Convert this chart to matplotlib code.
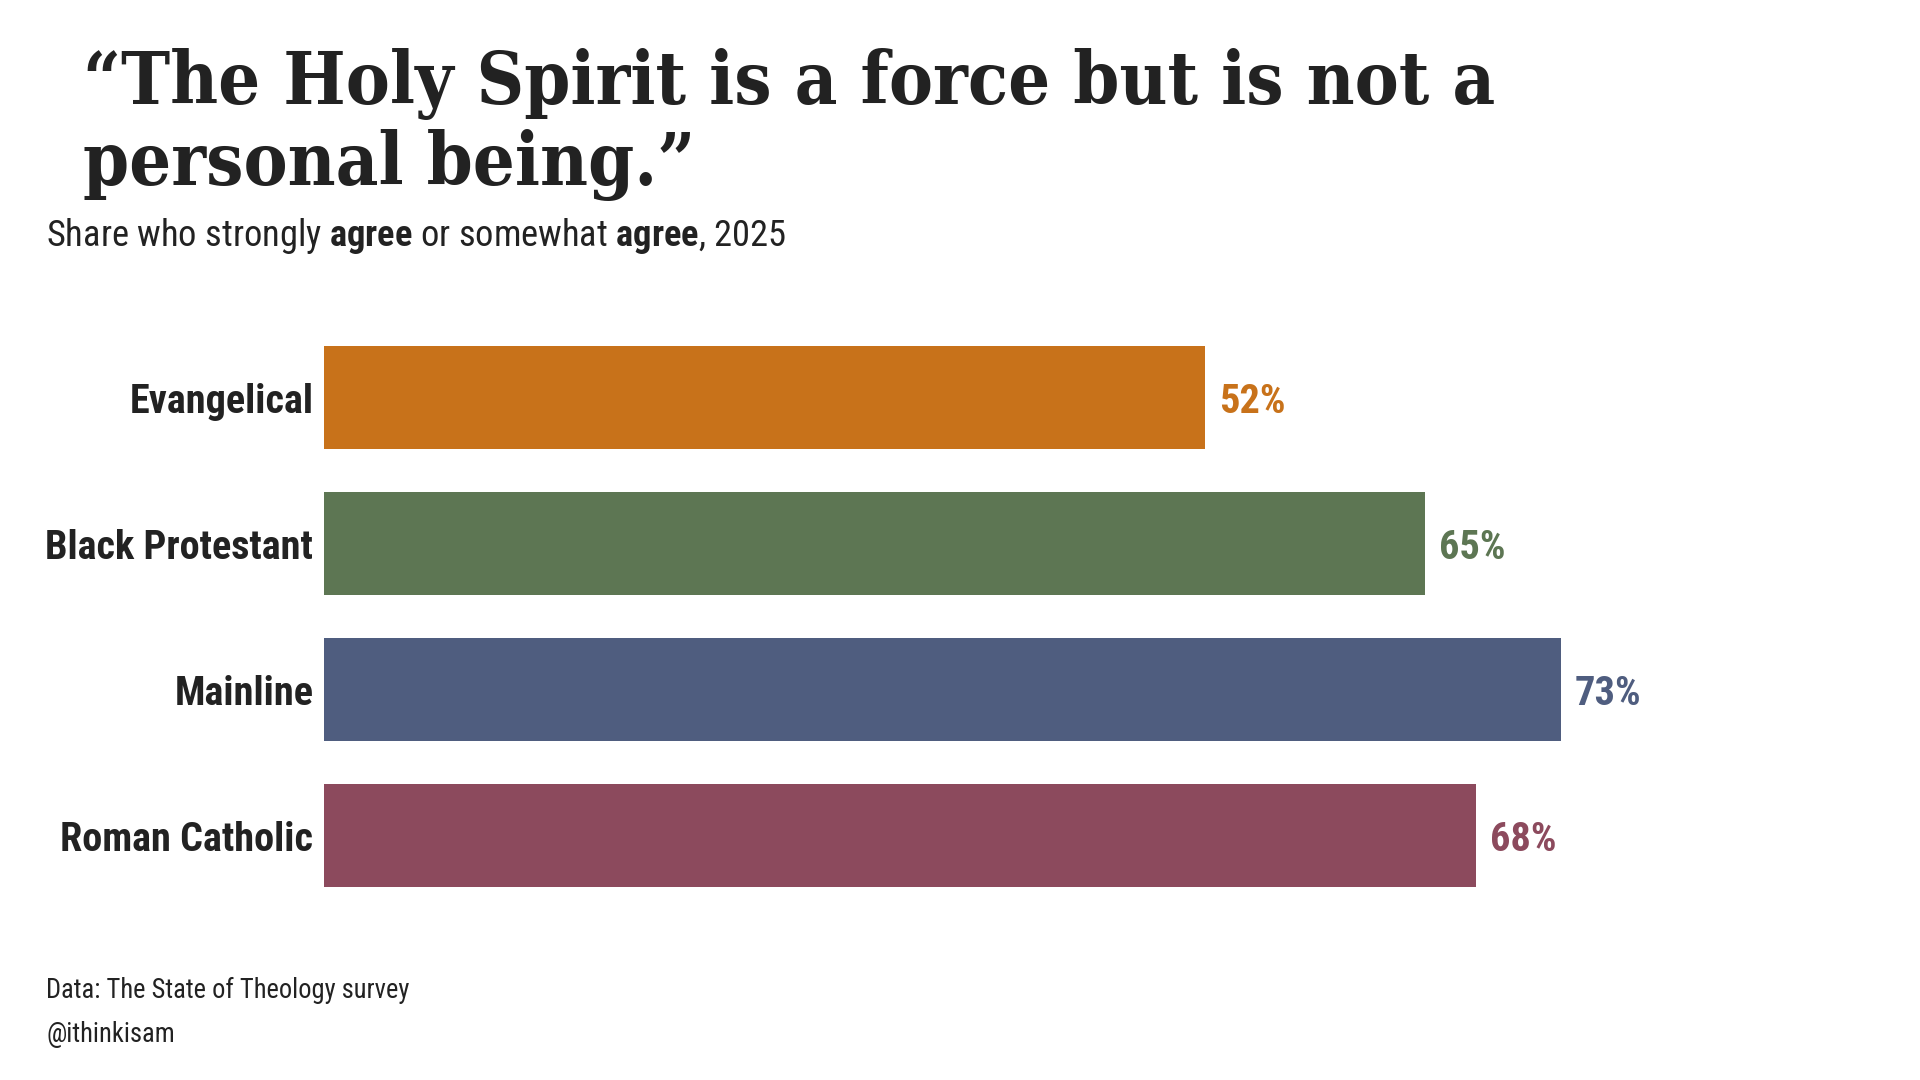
import matplotlib.pyplot as plt
from matplotlib import font_manager

fonts = font_manager.fontManager.ttflist
have_slab = any(f.name == 'Roboto Slab' for f in fonts)
serif_cond = any(f.name == 'DejaVu Serif' and f.stretch == 'condensed' for f in fonts)

title_font = ['Roboto Slab', 'DejaVu Serif'] if have_slab else ['DejaVu Serif']
cond_font = ['Roboto Condensed', 'Roboto', 'DejaVu Sans']

categories = ['Evangelical', 'Black Protestant', 'Mainline', 'Roman Catholic']
values = [52, 65, 73, 68]
colors = ['#C8721A', '#5D7653', '#4F5D7F', '#8C4A5D']

title_lines = ['\u201cThe Holy Spirit is a force but is not a', 'personal being.\u201d']

plt.rcParams['font.family'] = cond_font
plt.rcParams['mathtext.fontset'] = 'custom'
plt.rcParams['mathtext.rm'] = 'Roboto Condensed'
plt.rcParams['mathtext.bf'] = 'Roboto Condensed:bold'

fig = plt.figure(figsize=(19.2, 10.8), dpi=100)
ax = fig.add_axes([0.169, 0.1588, 0.829, 0.5407])

ypos = list(range(len(categories)))
ax.barh(ypos, values, height=0.7, color=colors)
ax.set_xlim(0, 94)
ax.set_ylim(3.5, -0.5)
for s in ax.spines.values():
    s.set_visible(False)
ax.set_xticks([])
ax.set_yticks(ypos)
ax.set_yticklabels(categories, fontsize=29, fontweight='bold', color='#222222')
ax.tick_params(axis='y', length=0, pad=8)

for y, v, c in zip(ypos, values, colors):
    ax.annotate(f'{v}%', (v, y), xytext=(10, 0), textcoords='offset points',
                va='center_baseline', ha='left', fontsize=29, fontweight='bold', color=c)

stretch = 'condensed' if serif_cond else 'normal'
t1 = fig.text(0.043, 0.9037, title_lines[0], family=title_font, fontstretch=stretch,
              fontsize=60, fontweight='bold', color='#222222', va='baseline', ha='left')
t2 = fig.text(0.043, 0.8287, title_lines[1], family=title_font, fontstretch=stretch,
              fontsize=60, fontweight='bold', color='#222222', va='baseline', ha='left')
# fit the first title line to the width it has in the original (~1413 px)
r = fig.canvas.get_renderer()
w = t1.get_window_extent(r).width
size = 60 * 1413 / w
t1.set_fontsize(size)
t2.set_fontsize(size)

fig.text(0.024, 0.7722, r'Share who strongly $\bf{agree}$ or somewhat $\bf{agree}$, 2025',
         fontsize=26.3, color='#222222', va='baseline')
fig.text(0.024, 0.076, 'Data: The State of Theology survey', fontsize=19.1,
         color='#222222', va='baseline')
fig.text(0.024, 0.035, '@ithinkisam', fontsize=19.1, color='#222222', va='baseline')

fig.savefig('out.png', dpi=100, facecolor='white')
